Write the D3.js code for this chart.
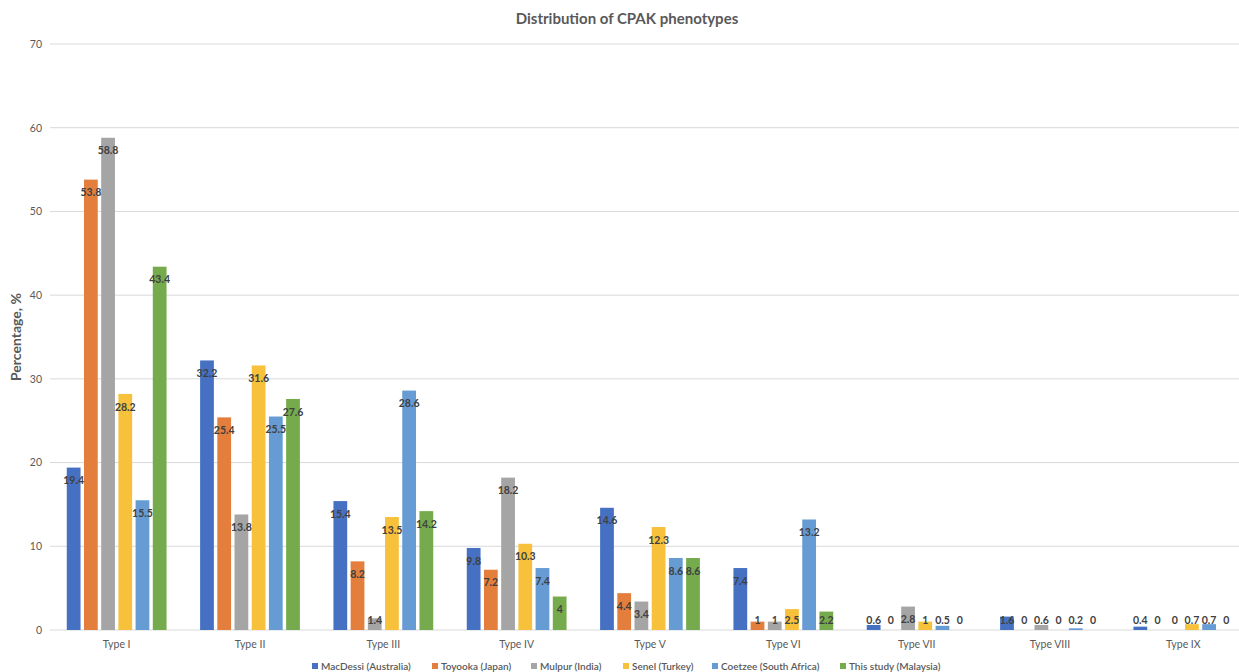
<!DOCTYPE html>
<html>
<head>
<meta charset="utf-8">
<script src="https://cdn.jsdelivr.net/npm/d3@7/dist/d3.min.js"></script>
<style>
  html, body { margin: 0; padding: 0; background: #fff; }
  svg { display: block; font-family: Lato, "Open Sans", sans-serif; }
</style>
</head>
<body>
<svg id="chart" width="1239" height="672"></svg>
<script>
// CPAK phenotype distribution across studies (percent of knees)
const categories = ["Type I", "Type II", "Type III", "Type IV", "Type V", "Type VI", "Type VII", "Type VIII", "Type IX"];
const seriesNames = ["MacDessi (Australia)", "Toyooka (Japan)", "Mulpur (India)", "Senel (Turkey)", "Coetzee (South Africa)", "This study (Malaysia)"];
const macdessi = [19.4, 32.2, 15.4, 9.8, 14.6, 7.4, 0.6, 1.6, 0.4];
const toyooka  = [53.8, 25.4, 8.2, 7.2, 4.4, 1, 0, 0, 0];
const mulpur   = [58.8, 13.8, 1.4, 18.2, 3.4, 1, 2.8, 0.6, 0];
const senel    = [28.2, 31.6, 13.5, 10.3, 12.3, 2.5, 1, 0, 0.7];
const coetzee  = [15.5, 25.5, 28.6, 7.4, 8.6, 13.2, 0.5, 0.2, 0.7];
const thisStudy = [43.4, 27.6, 14.2, 4, 8.6, 2.2, 0, 0, 0];
const yTicks = [0, 10, 20, 30, 40, 50, 60, 70];
const colors = ["#4670C2", "#E47E3C", "#A5A5A5", "#F7C13C", "#669BD4", "#75AB4C"];

const seriesValues = [macdessi, toyooka, mulpur, senel, coetzee, thisStudy];

const svg = d3.select("#chart");
const margin = { left: 50, right: -11, top: 44, bottom: 42 };
const W = 1239, H = 672;

const x0 = d3.scaleBand().domain(categories).range([margin.left, W - margin.right]).paddingInner(0.2).paddingOuter(0.1);
const x1 = d3.scaleBand().domain(seriesNames).range([0, x0.bandwidth()]).padding(0.2);
const y = d3.scaleLinear().domain([0, 70]).range([H - margin.bottom, margin.top]);

// Gridlines
svg.append("g")
  .selectAll("line")
  .data(yTicks)
  .join("line")
  .attr("x1", margin.left).attr("x2", W - margin.right)
  .attr("y1", d => y(d)).attr("y2", d => y(d))
  .attr("stroke", "#d9d9d9").attr("stroke-width", 1);

// Y tick labels
const yAxis = d3.axisLeft(y).tickValues(yTicks).tickSize(0).tickPadding(8);
const gy = svg.append("g").attr("transform", `translate(${margin.left},0)`).call(yAxis);
gy.select(".domain").remove();
gy.selectAll("text").attr("fill", "#595959").attr("font-size", 10.5).style("font-family", "Lato, sans-serif");

// X category labels
const xAxis = d3.axisBottom(x0).tickSize(0).tickPadding(11);
const gx = svg.append("g").attr("transform", `translate(0,${y(0)})`).call(xAxis);
gx.select(".domain").remove();
gx.selectAll("text").attr("fill", "#595959").attr("font-size", 10.5).style("font-family", "Lato, sans-serif");

// Bars
const rows = [];
categories.forEach((c, i) => {
  seriesNames.forEach((s, j) => rows.push({ cat: c, series: s, idx: j, value: seriesValues[j][i] }));
});

svg.append("g")
  .selectAll("rect")
  .data(rows)
  .join("rect")
  .attr("x", d => x0(d.cat) + x1(d.series))
  .attr("y", d => y(d.value))
  .attr("width", x1.bandwidth())
  .attr("height", d => y(0) - y(d.value))
  .attr("fill", d => colors[d.idx]);

// Value labels, inside the top of each bar
svg.append("g")
  .selectAll("text")
  .data(rows)
  .join("text")
  .attr("x", d => x0(d.cat) + x1(d.series) + x1.bandwidth() / 2)
  .attr("y", d => Math.min(y(d.value) + 13, y(0) - 10))
  .attr("dy", "0.35em")
  .attr("text-anchor", "middle")
  .attr("font-size", 10.5)
  .attr("font-weight", "bold")
  .attr("fill", "#404040")
  .text(d => d.value);

// Title
svg.append("text")
  .attr("x", 627).attr("y", 24)
  .attr("text-anchor", "middle")
  .attr("font-size", 15)
  .attr("font-weight", "bold")
  .attr("fill", "#595959")
  .text("Distribution of CPAK phenotypes");

// Y axis title
svg.append("text")
  .attr("transform", `translate(21,${(y(0) + y(70)) / 2}) rotate(-90)`)
  .attr("text-anchor", "middle")
  .attr("font-size", 14)
  .attr("font-weight", "bold")
  .attr("fill", "#595959")
  .text("Percentage, %");

// Legend
const legendX = [312, 432, 531, 623, 712, 840];
const lg = svg.append("g").attr("transform", "translate(0,667)");
const items = lg.selectAll("g").data(seriesNames).join("g")
  .attr("transform", (d, i) => `translate(${legendX[i]},0)`);
items.append("rect").attr("x", 0).attr("y", -4).attr("width", 6).attr("height", 6)
  .attr("fill", (d, i) => colors[i]);
items.append("text").attr("x", 9).attr("y", 0).attr("dy", "0.32em")
  .attr("font-size", 10).attr("font-weight", 600).attr("fill", "#595959")
  .text(d => d);
</script>
</body>
</html>
